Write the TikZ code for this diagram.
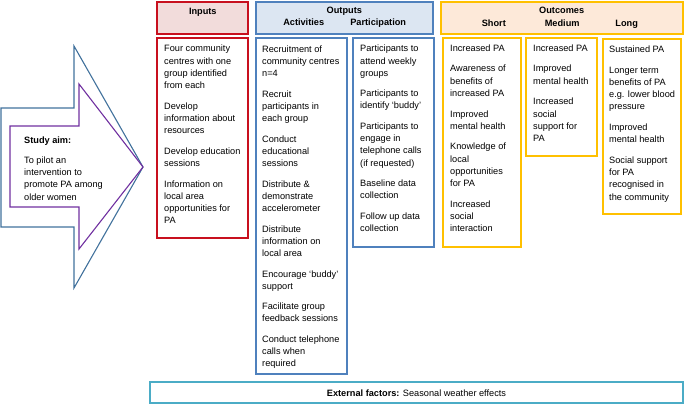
\documentclass[tikz,border=0pt]{standalone}
\usepackage{fontspec}
\setmainfont{Liberation Sans}
\definecolor{redc}{HTML}{C8101E}
\definecolor{bluec}{HTML}{4F81BD}
\definecolor{orangec}{HTML}{FFC000}
\definecolor{tealc}{HTML}{4BACC6}
\definecolor{pinkf}{HTML}{F2DCDB}
\definecolor{bluef}{HTML}{DCE6F2}
\definecolor{peachf}{HTML}{FDE9D9}
\definecolor{arrowb}{HTML}{41719C}
\definecolor{purplec}{HTML}{7030A0}
\begin{document}
\begin{tikzpicture}[x=1pt,y=-1pt,
  box/.style={draw=#1,line width=1.6pt,anchor=north west,inner sep=0pt,outer sep=0pt},
  txt/.style={anchor=north west,inner sep=0pt,align=left,font=\fontsize{9.2}{12.2}\selectfont},
  hdr/.style={anchor=base,inner sep=0pt,font=\fontsize{9.2}{12.2}\selectfont\bfseries}]
\useasboundingbox (0,0) rectangle (685,405);
% arrow
\draw[arrowb,line width=1.1pt,line join=miter] (1,108) -- (74,108) -- (74,46) -- (143,167) -- (74,288) -- (74,227) -- (1,227) -- cycle;
\draw[purplec,line width=1.1pt,line join=miter] (10,126) -- (79,126) -- (79,84) -- (143,167) -- (79,249) -- (79,207) -- (10,207) -- cycle;
\node[txt] (aim) at (24,134.8) {\strut\textbf{Study aim:}\\[7.8pt]
To pilot an\\intervention to\\promote PA among\\older women};
% headers
\node[box=redc,fill=pinkf,minimum width=91pt,minimum height=32pt] (inh) at (157,2) {};
\node[box=bluec,fill=bluef,minimum width=177pt,minimum height=32pt] (outh) at (256,2) {};
\node[box=orangec,fill=peachf,minimum width=242pt,minimum height=32pt] (ocmh) at (441,2) {};
\node[hdr] (tin) at (202.8,14.3) {Inputs};
\node[hdr] (tout) at (344.3,13.3) {Outputs};
\node[hdr] (tact) at (303.7,25.6) {Activities};
\node[hdr] (tpar) at (378.2,25.6) {Participation};
\node[hdr] (tocm) at (561.7,13.3) {Outcomes};
\node[hdr] (tsh) at (493.8,26) {Short};
\node[hdr] (tmed) at (562.2,26) {Medium};
\node[hdr] (tlng) at (626.7,26) {Long};
% bodies
\node[box=redc,minimum width=91pt,minimum height=200pt] (inb) at (157,38) {};
\node[box=bluec,minimum width=91pt,minimum height=336pt] (actb) at (256,38) {};
\node[box=bluec,minimum width=81pt,minimum height=209pt] (parb) at (353,38) {};
\node[box=orangec,minimum width=78pt,minimum height=209pt] (shb) at (443,38) {};
\node[box=orangec,minimum width=71pt,minimum height=118pt] (medb) at (526,38) {};
\node[box=orangec,minimum width=78pt,minimum height=175pt] (lngb) at (603,39) {};
\node[box=tealc,minimum width=533pt,minimum height=21pt] (ext) at (150,382) {};
% texts
\node[txt] (inT) at (164,43.1) {\strut Four community\\centres with one\\group identified\\from each\\[8.5pt]
Develop\\information about\\resources\\[8.5pt]
Develop education\\sessions\\[8.5pt]
Information on\\local area\\opportunities for\\PA};
\node[txt] (actT) at (262,43.8) {\strut Recruitment of\\community centres\\n=4\\[8.3pt]
Recruit\\participants in\\each group\\[8.3pt]
Conduct\\educational\\sessions\\[8.3pt]
Distribute \&\\demonstrate\\accelerometer\\[8.3pt]
Distribute\\information on\\local area\\[8.3pt]
Encourage ‘buddy’\\support\\[8.3pt]
Facilitate group\\feedback sessions\\[8.3pt]
Conduct telephone\\calls when\\required};
\node[txt] (parT) at (360,43.1) {\strut Participants to\\attend weekly\\groups\\[8.3pt]
Participants to\\identify ‘buddy’\\[8.3pt]
Participants to\\engage in\\telephone calls\\(if requested)\\[8.3pt]
Baseline data\\collection\\[8.3pt]
Follow up data\\collection};
\node[txt] (shT) at (450,42.5) {\strut Increased PA\\[8.5pt]
Awareness of\\benefits of\\increased PA\\[8.5pt]
Improved\\mental health\\[8.5pt]
Knowledge of\\local\\opportunities\\for PA\\[8.5pt]
Increased\\social\\interaction};
\node[txt] (medT) at (533,42.5) {\strut Increased PA\\[8.5pt]
Improved\\mental health\\[8.5pt]
Increased\\social\\support for\\PA};
\node[txt] (lngT) at (609,43.8) {\strut Sustained PA\\[8.5pt]
Longer term\\benefits of PA\\e.g. lower blood\\pressure\\[8.5pt]
Improved\\mental health\\[8.5pt]
Social support\\for PA\\recognised in\\the community};
\node[anchor=base,inner sep=0pt,font=\fontsize{9.2}{12.2}\selectfont] (extT) at (416.5,396.3) {\textbf{External factors:} Seasonal weather effects};
\end{tikzpicture}
\end{document}
